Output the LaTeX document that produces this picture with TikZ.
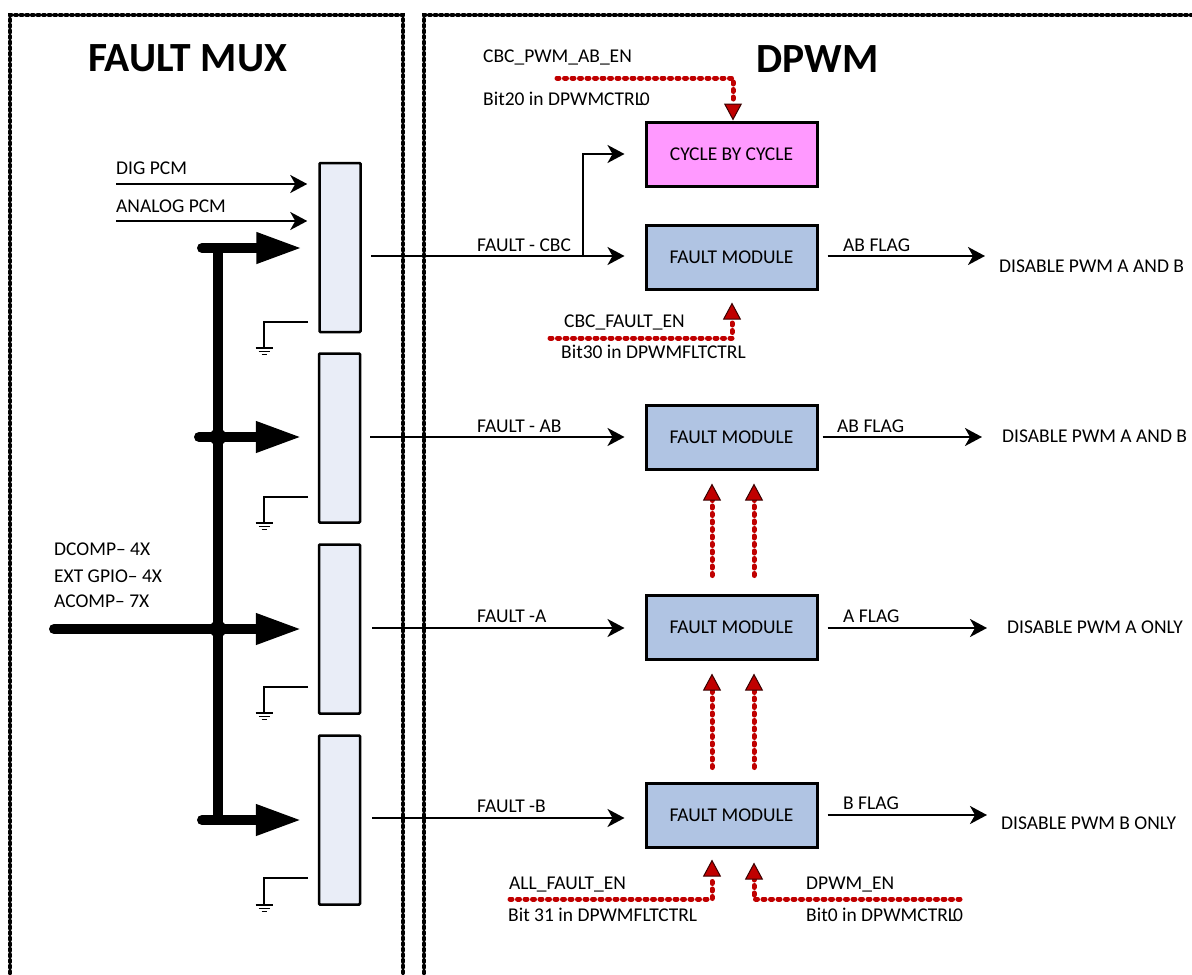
\documentclass[tikz,border=0pt]{standalone}
\usepackage{fontspec}
\setmainfont{Carlito}
\usetikzlibrary{arrows.meta,calc}
\definecolor{muxfill}{HTML}{E9EDF7}
\definecolor{modfill}{HTML}{B0C4E3}
\definecolor{cbcfill}{HTML}{FF99FF}
\definecolor{reddot}{HTML}{C00000}
\begin{document}
\begin{tikzpicture}[x=1pt,y=-1pt,
  frameline/.style={line width=4pt,line cap=round,dash pattern=on 2pt off 3.6pt},
  muxblock/.style={draw,line width=2.5pt,fill=muxfill,minimum width=41pt,minimum height=169pt,inner sep=0pt,rounded corners=1pt},
  modbox/.style={draw,line width=3pt,fill=modfill,minimum width=171pt,minimum height=64pt,inner sep=0pt,font=\fontsize{19.5}{21}\selectfont},
  lbl/.style={inner sep=0pt,anchor=base west,font=\fontsize{19.5}{21}\selectfont},
  ttl/.style={inner sep=0pt,anchor=base west,font=\fontsize{41.5}{44}\selectfont\bfseries},
  thinarrow/.style={line width=2.3pt,-{Stealth[length=17pt,width=18pt,inset=5pt]}},
  thickarrow/.style={line width=10pt,line cap=round,-{Triangle[length=46pt,width=29pt]}},
  redarrow/.style={reddot,line width=5pt,line cap=round,dash pattern=on 2pt off 5.5pt,
    -{Triangle[length=17pt,width=18pt,fill=reddot,color=black!70!reddot,line width=1pt]}},
  gndline/.style={line width=2pt}
]
\useasboundingbox (0,0) rectangle (1192,975);

% frames
\draw[frameline] (10,990) -- (10,15) -- (403,15) -- (403,990);
\draw[frameline] (424,990) -- (424,15) -- (1205,15);

% titles
\node[ttl] (tmux) at (88,71) {FAULT MUX};
\node[ttl] (tdpwm) at (756,72) {DPWM};

% mux blocks
\node[muxblock] (m1) at (340,247.5) {};
\node[muxblock] (m2) at (339.5,438) {};
\node[muxblock] (m3) at (339.5,629) {};
\node[muxblock] (m4) at (339.5,820) {};

% grounds
\foreach \gy/\gb in {322/348, 497/523, 687/713, 878/905}{
  \draw[gndline] (308,\gy) -- (264,\gy) -- (264,\gb);
  \draw[gndline] (255.5,\gb) -- (272.5,\gb);
  \draw[line width=1.5pt] (258.5,\gb+3.5) -- (269.5,\gb+3.5);
  \draw[line width=1.5pt] (261.5,\gb+6.5) -- (266.5,\gb+6.5);
}

% PCM inputs
\coordinate (dig) at (116,184);
\coordinate (ana) at (116,221);
\draw[thinarrow,shorten >=11pt] (dig) -- (dig -| m1.west);
\draw[thinarrow,shorten >=11pt] (ana) -- (ana -| m1.west);
\node[lbl] (ldig) at (116,174) {DIG PCM};
\node[lbl] (lana) at (116,212) {ANALOG PCM};

% thick bus
\coordinate (b1) at (202,248);
\coordinate (b2) at (199,437);
\coordinate (b3) at (54,629);
\coordinate (b4) at (202,820);
\draw[line width=10pt] (218,248) -- (218,820);
\draw[thickarrow,shorten >=16pt] (b1) -- (b1 -| m1.west);
\draw[thickarrow,shorten >=16pt] (b2) -- (b2 -| m2.west);
\draw[thickarrow,shorten >=16pt] (b3) -- (b3 -| m3.west);
\draw[thickarrow,shorten >=16pt] (b4) -- (b4 -| m4.west);
\fill (218,437) circle (8.5);
\fill (218,629) circle (8.5);
\node[lbl] (ld1) at (54,555) {DCOMP– 4X};
\node[lbl] (ld2) at (54,582) {EXT GPIO– 4X};
\node[lbl] (ld3) at (54,607) {ACOMP– 7X};

% DPWM modules
\node[modbox,fill=cbcfill] (cbc) at (731.5,154) {CYCLE BY CYCLE};
\node[modbox] (fm1) at (731.5,257) {FAULT MODULE};
\node[modbox] (fm2) at (731.5,437) {FAULT MODULE};
\node[modbox] (fm3) at (731.5,627) {FAULT MODULE};
\node[modbox] (fm4) at (731.5,815) {FAULT MODULE};

% mux -> modules
\coordinate (s1) at (361,256);
\coordinate (s2) at (361,437);
\coordinate (s3) at (361,628);
\coordinate (s4) at (361,818);
\coordinate (br) at (583,256);
\draw[thinarrow,shorten <=10pt,shorten >=20pt] (s1) -- (s1 -| fm1.west);
\draw[thinarrow,shorten >=20pt] (br) |- (cbc.west);
\draw[thinarrow,shorten <=9pt,shorten >=20pt] (s2) -- (s2 -| fm2.west);
\draw[thinarrow,shorten <=11pt,shorten >=20pt] (s3) -- (s3 -| fm3.west);
\draw[thinarrow,shorten <=11pt,shorten >=20pt] (s4) -- (s4 -| fm4.west);
\node[lbl] (lf1) at (477,251) {FAULT - CBC};
\node[lbl] (lf2) at (477,432) {FAULT - AB};
\node[lbl] (lf3) at (477,622) {FAULT -A};
\node[lbl] (lf4) at (477,812) {FAULT -B};

% outputs
\coordinate (o1) at (985,256);
\coordinate (o2) at (982,437);
\coordinate (o3) at (987,628);
\coordinate (o4) at (987,815);
\draw[thinarrow,shorten <=9pt] (o1 -| fm1.east) -- (o1);
\draw[thinarrow,shorten <=4pt] (o2 -| fm2.east) -- (o2);
\draw[thinarrow,shorten <=9pt] (o3 -| fm3.east) -- (o3);
\draw[thinarrow,shorten <=9pt] (o4 -| fm4.east) -- (o4);
\node[lbl] (lab1) at (843,251) {AB FLAG};
\node[lbl] (lab2) at (837,432) {AB FLAG};
\node[lbl] (la3) at (843,622) {A FLAG};
\node[lbl] (lb4) at (843,809) {B FLAG};
\node[lbl] (d1) at (999,272) {DISABLE PWM A AND B};
\node[lbl] (d2) at (1002,442) {DISABLE PWM A AND B};
\node[lbl] (d3) at (1007,633) {DISABLE PWM A ONLY};
\node[lbl] (d4) at (1001,829) {DISABLE PWM B ONLY};

% red enable arrows
\coordinate (cpe) at (557,78);
\draw[redarrow] (cpe) -| ([xshift=1.5pt]cbc.north);
\node[lbl] (lcpe) at (483,62) {CBC\_PWM\_AB\_EN};
\node[lbl] (lb20) at (483,105) {Bit20 in DPWMCTRL\kern-3pt0};

\coordinate (cfe) at (550,338);
\draw[redarrow,shorten >=12pt] (cfe) -| ([xshift=0.5pt]fm1.south);
\node[lbl] (lcfe) at (564,327) {CBC\_FAULT\_EN};
\node[lbl] (lb30) at (561,358) {Bit30 in DPWMFLTCTRL};

\foreach \dx in {-19.5,22.5}{
  \draw[redarrow,shorten <=18pt,shorten >=13pt] ([xshift=\dx pt]fm3.north) -- ([xshift=\dx pt]fm2.south);
  \draw[redarrow,shorten <=14pt,shorten >=13pt] ([xshift=\dx pt]fm4.north) -- ([xshift=\dx pt]fm3.south);
}

\coordinate (afe) at (510,899);
\coordinate (dpe) at (960,899);
\draw[redarrow,shorten >=11pt] (afe) -| ([xshift=-19.5pt]fm4.south);
\draw[redarrow,shorten >=14pt] (dpe) -| ([xshift=22.5pt]fm4.south);
\node[lbl] (lafe) at (509,889) {ALL\_FAULT\_EN};
\node[lbl] (lb31) at (508,921) {Bit 31 in DPWMFLTCTRL};
\node[lbl] (ldpe) at (806,889) {DPWM\_EN};
\node[lbl] (lb0) at (806,921) {Bit0 in DPWMCTRL\kern-3pt0};
\end{tikzpicture}
\end{document}
